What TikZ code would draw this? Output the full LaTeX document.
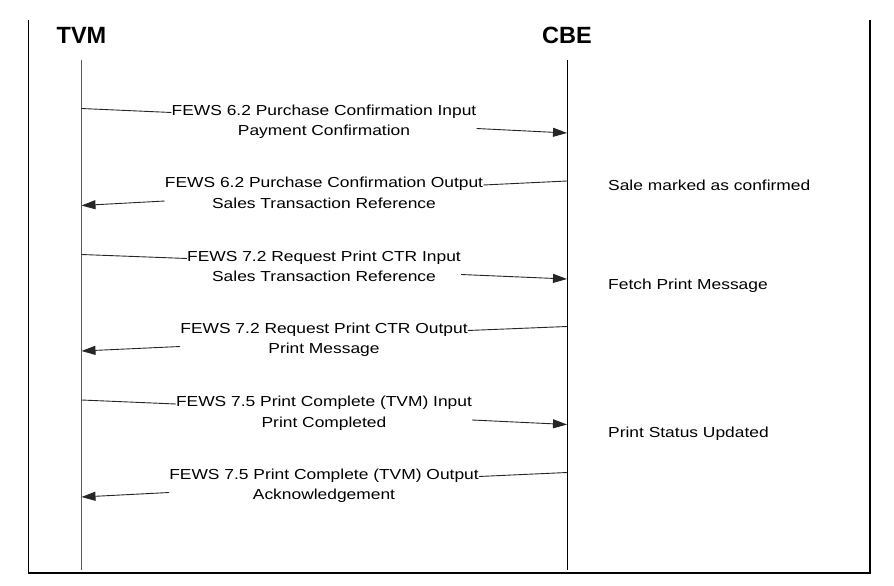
\documentclass[tikz,border=0pt]{standalone}
\usepackage{fontspec}
\setmainfont{Liberation Sans}[FakeStretch=1.2]
\newfontfamily\titlefont{Liberation Sans}
\usetikzlibrary{arrows.meta}
\begin{document}
\begin{tikzpicture}[x=1pt,y=-1pt,
  msg/.style={inner sep=0pt, anchor=base, font=\fontsize{14.5}{17}\selectfont},
  note/.style={inner sep=0pt, anchor=base west, font=\fontsize{14.5}{17}\selectfont},
  title/.style={inner sep=0pt, anchor=base, font=\titlefont\bfseries\fontsize{23.5}{28}\selectfont},
  link/.style={line width=0.9pt, draw=black!85},
  arr/.style={link, -{Triangle[length=14pt,width=9pt]}},
  life/.style={line width=0.9pt},
  frame/.style={line width=1.8pt}]
\useasboundingbox (0,0) rectangle (894,586);
% frame
\coordinate (f1) at (28.5,20);
\coordinate (f2) at (28.5,573);
\coordinate (f3) at (870,573);
\coordinate (f4) at (870,20);
\draw[frame] (f1) -- (f2) -- (f3) -- (f4);
% titles
\node[title] (tvm) at (81.5,44) {TVM};
\node[title] (cbe) at (567,44) {CBE};
% lifelines
\coordinate (tvmtop) at (81.5,60);
\coordinate (tvmbot) at (81.5,570);
\coordinate (cbetop) at (567,60);
\coordinate (cbebot) at (567,570);
\draw[life, draw=black!65] (tvmtop) -- (tvmbot);
\draw[life] (cbetop) -- (cbebot);
% message 1 (TVM -> CBE)
\node[msg] (m1a) at (324,115) {FEWS 6.2 Purchase Confirmation Input};
\node[msg] (m1b) at (324,135.5) {Payment Confirmation};
\coordinate (t1) at (81.5,108.5);
\coordinate (c1) at (567,133);
\draw[link] (t1) -- ([yshift=2.5pt]m1a.base west);
\draw[arr] ([yshift=-13.5pt]m1a.base east) -- (c1);
% message 2 (CBE -> TVM)
\node[msg] (m2a) at (324,187.5) {FEWS 6.2 Purchase Confirmation Output};
\node[msg] (m2b) at (324,208) {Sales Transaction Reference};
\coordinate (c2) at (567,181);
\coordinate (t2) at (81.5,205.5);
\draw[link] (c2) -- ([yshift=2.5pt]m2a.base east);
\draw[arr] ([yshift=-13.5pt]m2a.base west) -- (t2);
% message 3
\node[msg] (m3a) at (324,261) {FEWS 7.2 Request Print CTR Input};
\node[msg] (m3b) at (324,281.5) {Sales Transaction Reference};
\coordinate (t3) at (81.5,254.5);
\coordinate (c3) at (567,279);
\draw[link] (t3) -- ([yshift=2.5pt]m3a.base west);
\draw[arr] ([yshift=-13.5pt]m3a.base east) -- (c3);
% message 4
\node[msg] (m4a) at (324,333) {FEWS 7.2 Request Print CTR Output};
\node[msg] (m4b) at (324,353.5) {Print Message};
\coordinate (c4) at (567,326.5);
\coordinate (t4) at (81.5,351);
\draw[link] (c4) -- ([yshift=2.5pt]m4a.base east);
\draw[arr] ([yshift=-13.5pt]m4a.base west) -- (t4);
% message 5
\node[msg] (m5a) at (324,406.5) {FEWS 7.5 Print Complete (TVM) Input};
\node[msg] (m5b) at (324,427) {Print Completed};
\coordinate (t5) at (81.5,400);
\coordinate (c5) at (567,424.5);
\draw[link] (t5) -- ([yshift=2.5pt]m5a.base west);
\draw[arr] ([yshift=-13.5pt]m5a.base east) -- (c5);
% message 6
\node[msg] (m6a) at (324,479) {FEWS 7.5 Print Complete (TVM) Output};
\node[msg] (m6b) at (324,499.5) {Acknowledgement};
\coordinate (c6) at (567,472.5);
\coordinate (t6) at (81.5,497);
\draw[link] (c6) -- ([yshift=2.5pt]m6a.base east);
\draw[arr] ([yshift=-13.5pt]m6a.base west) -- (t6);
% notes
\node[note] (n1) at (608,190) {Sale marked as confirmed};
\node[note] (n2) at (608,289) {Fetch Print Message};
\node[note] (n3) at (608,437) {Print Status Updated};
\end{tikzpicture}
\end{document}
